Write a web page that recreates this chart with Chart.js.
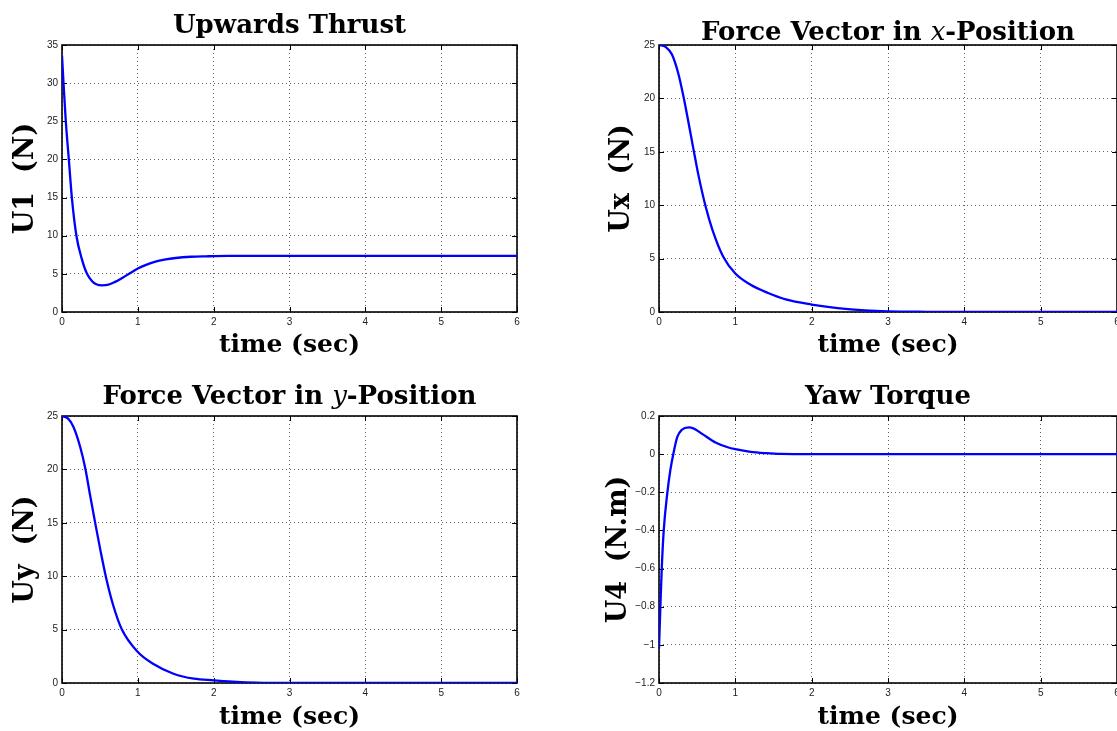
<!DOCTYPE html>
<html>
<head>
<meta charset="utf-8">
<title>Quadrotor control inputs</title>
<script src="https://cdn.jsdelivr.net/npm/chart.js@4.4.0/dist/chart.umd.min.js"></script>
<style>
  html, body { margin: 0; padding: 0; background: #fff; width: 1117px; height: 731px; overflow: hidden; }
  .panel { position: absolute; }
</style>
</head>
<body>
<div class="panel" style="left:0;top:0"><canvas id="chartU1" width="540" height="365"></canvas></div>
<div class="panel" style="left:580px;top:0"><canvas id="chartUx" width="560" height="365"></canvas></div>
<div class="panel" style="left:0;top:365px"><canvas id="chartUy" width="540" height="366"></canvas></div>
<div class="panel" style="left:580px;top:365px"><canvas id="chartU4" width="560" height="366"></canvas></div>

<script>
// values (time in seconds)
const timeTicks = [0, 1, 2, 3, 4, 5, 6];

const u1Time   = [0, 0.02, 0.05, 0.09, 0.13, 0.19, 0.26, 0.33, 0.40, 0.46, 0.53, 0.60, 0.70, 0.80, 0.90, 1.0, 1.1, 1.2, 1.35, 1.5, 1.7, 1.9, 2.2, 2.6, 3, 4, 5, 6];
const u1Values = [33.6, 30, 25, 20, 15, 10, 7.0, 5.0, 4.0, 3.6, 3.5, 3.55, 3.95, 4.5, 5.1, 5.7, 6.15, 6.5, 6.85, 7.08, 7.24, 7.3, 7.35, 7.35, 7.35, 7.35, 7.35, 7.35];

const uxTime   = [0, 0.09, 0.17, 0.25, 0.32, 0.39, 0.45, 0.52, 0.61, 0.70, 0.84, 1.0, 1.2, 1.43, 1.66, 2.0, 2.34, 2.7, 3.0, 3.5, 4, 5, 6];
const uxValues = [25, 24.8, 24.1, 22.4, 20.2, 17.6, 15.3, 12.7, 9.9, 7.7, 5.2, 3.6, 2.55, 1.78, 1.18, 0.7, 0.37, 0.15, 0.06, 0.02, 0.01, 0, 0];

const uyTime   = [0, 0.08, 0.15, 0.24, 0.31, 0.37, 0.44, 0.51, 0.58, 0.67, 0.79, 1.0, 1.2, 1.47, 1.74, 2.0, 2.3, 2.56, 3, 4, 5, 6];
const uyValues = [25, 24.75, 24, 22.1, 20.0, 17.6, 14.9, 12.3, 9.9, 7.4, 5.0, 2.9, 1.8, 0.87, 0.4, 0.25, 0.1, 0.03, 0, 0, 0, 0];

const u4Time   = [0, 0.018, 0.036, 0.062, 0.11, 0.15, 0.187, 0.24, 0.30, 0.39, 0.45, 0.57, 0.74, 0.90, 1.0, 1.2, 1.4, 1.6, 2, 3, 4, 5, 6];
const u4Values = [-1.02, -0.8, -0.6, -0.4, -0.2, -0.08, 0, 0.09, 0.128, 0.14, 0.135, 0.105, 0.061, 0.036, 0.026, 0.012, 0.005, 0.001, 0, 0, 0, 0, 0];

const SERIF = '"DejaVu Serif", "Liberation Serif", serif';
const SANS = '"Liberation Sans", Arial, sans-serif';

// black box round the plot area with small inward ticks, MATLAB style
const framePlugin = {
  id: 'frame',
  beforeDatasetsDraw(chart) {
    const { ctx, chartArea: a, scales } = chart;
    ctx.save();
    ctx.strokeStyle = '#000';
    ctx.lineWidth = 1;
    ctx.beginPath();
    scales.x.ticks.forEach(t => {
      const px = Math.round(scales.x.getPixelForValue(t.value)) + 0.5;
      ctx.moveTo(px, a.bottom); ctx.lineTo(px, a.bottom - 5);
      ctx.moveTo(px, a.top); ctx.lineTo(px, a.top + 5);
    });
    scales.y.ticks.forEach(t => {
      const py = Math.round(scales.y.getPixelForValue(t.value)) + 0.5;
      ctx.moveTo(a.left, py); ctx.lineTo(a.left + 5, py);
      ctx.moveTo(a.right, py); ctx.lineTo(a.right - 5, py);
    });
    ctx.stroke();
    ctx.lineWidth = 1.6;
    ctx.strokeRect(a.left, a.top, a.right - a.left, a.bottom - a.top);
    ctx.restore();
  }
};

// title with mixed upright / italic parts
const titlePlugin = {
  id: 'mixedTitle',
  afterDraw(chart, args, opts) {
    if (!opts.parts) return;
    const { ctx, chartArea: a } = chart;
    const fonts = opts.parts.map(p => p.italic
      ? `italic ${opts.size}px ${SERIF}`
      : `bold ${opts.size}px ${SERIF}`);
    ctx.save();
    let total = 0;
    const widths = opts.parts.map((p, i) => { ctx.font = fonts[i]; const w = ctx.measureText(p.text).width; total += w; return w; });
    let x = (a.left + a.right) / 2 - total / 2;
    ctx.fillStyle = '#000';
    ctx.textBaseline = 'alphabetic';
    ctx.textAlign = 'left';
    opts.parts.forEach((p, i) => {
      ctx.font = fonts[i];
      ctx.fillText(p.text, x, opts.baseline);
      x += widths[i];
    });
    ctx.restore();
  }
};

function fmtTick(v) {
  const r = Math.round(v * 10) / 10;
  return String(r).replace('-', '\u2212');
}

function makeChart(id, cfg) {
  const pts = cfg.time.map((t, i) => ({ x: t, y: cfg.values[i] }));
  new Chart(document.getElementById(id), {
    type: 'line',
    data: {
      datasets: [{
        data: pts,
        borderColor: '#0000ff',
        borderWidth: 2.3,
        pointRadius: 0,
        fill: false,
        cubicInterpolationMode: 'monotone'
      }]
    },
    options: {
      responsive: false,
      animation: false,
      events: [],
      layout: { padding: { top: cfg.areaTop, right: cfg.padRight, left: 0, bottom: 0 } },
      plugins: {
        legend: { display: false },
        tooltip: { enabled: false },
        mixedTitle: { parts: cfg.title, size: cfg.titleSize, baseline: cfg.titleBaseline }
      },
      scales: {
        x: {
          type: 'linear',
          min: 0, max: 6,
          afterBuildTicks: s => { s.ticks = timeTicks.map(v => ({ value: v })); },
          afterFit: s => { s.height = cfg.xAxisHeight; },
          ticks: { padding: 4, color: '#222', font: { family: SANS, size: 10 }, maxRotation: 0, callback: fmtTick },
          grid: { color: 'rgba(0,0,0,0.6)', lineWidth: 1, drawTicks: false },
          border: { display: false, dash: [1, 3] },
          title: {
            display: true, text: 'time (sec)', color: '#000',
            font: { family: SERIF, size: 25, weight: 'bold', lineHeight: 1 },
            // bottom title offset comes from padding.bottom
            padding: { top: 0, bottom: cfg.xTitlePad }
          }
        },
        y: {
          type: 'linear',
          min: cfg.yMin, max: cfg.yMax,
          afterBuildTicks: s => { s.ticks = cfg.yTicks.map(v => ({ value: v })); },
          afterFit: s => { s.width = cfg.yAxisWidth; },
          ticks: { padding: 4, color: '#222', font: { family: SANS, size: 10 }, callback: fmtTick },
          grid: { color: 'rgba(0,0,0,0.6)', lineWidth: 1, drawTicks: false },
          border: { display: false, dash: [1, 3] },
          title: {
            display: true, text: cfg.yLabel, color: '#000',
            font: { family: SERIF, size: 27, weight: 'bold', lineHeight: 1 },
            padding: { top: cfg.yTitlePad, bottom: 0 }
          }
        }
      }
    },
    plugins: [framePlugin, titlePlugin]
  });
}

const u1Ticks = [0, 5, 10, 15, 20, 25, 30, 35];
const uxyTicks = [0, 5, 10, 15, 20, 25];
const u4Ticks = [-1.2, -1, -0.8, -0.6, -0.4, -0.2, 0, 0.2];

makeChart('chartU1', {
  time: u1Time, values: u1Values, yMin: 0, yMax: 35, yTicks: u1Ticks,
  title: [{ text: 'Upwards Thrust' }], titleSize: 26, titleBaseline: 33,
  yLabel: 'U1  (N)', areaTop: 45, padRight: 23, yAxisWidth: 62, xAxisHeight: 53,
  xTitlePad: 7, yTitlePad: 12
});

makeChart('chartUx', {
  time: uxTime, values: uxValues, yMin: 0, yMax: 25, yTicks: uxyTicks,
  title: [{ text: 'Force Vector in ' }, { text: 'x', italic: true }, { text: '-Position' }], titleSize: 26, titleBaseline: 40,
  yLabel: 'Ux  (N)', areaTop: 45, padRight: 23, yAxisWidth: 79, xAxisHeight: 53,
  xTitlePad: 7, yTitlePad: 28
});

makeChart('chartUy', {
  time: uyTime, values: uyValues, yMin: 0, yMax: 25, yTicks: uxyTicks,
  title: [{ text: 'Force Vector in ' }, { text: 'y', italic: true }, { text: '-Position' }], titleSize: 26, titleBaseline: 39,
  yLabel: 'Uy  (N)', areaTop: 51, padRight: 23, yAxisWidth: 62, xAxisHeight: 48,
  xTitlePad: 1, yTitlePad: 12
});

makeChart('chartU4', {
  time: u4Time, values: u4Values, yMin: -1.2, yMax: 0.2, yTicks: u4Ticks,
  title: [{ text: 'Yaw Torque' }], titleSize: 26, titleBaseline: 39,
  yLabel: 'U4  (N.m)', areaTop: 51, padRight: 23, yAxisWidth: 79, xAxisHeight: 48,
  xTitlePad: 1, yTitlePad: 25
});
</script>
</body>
</html>
